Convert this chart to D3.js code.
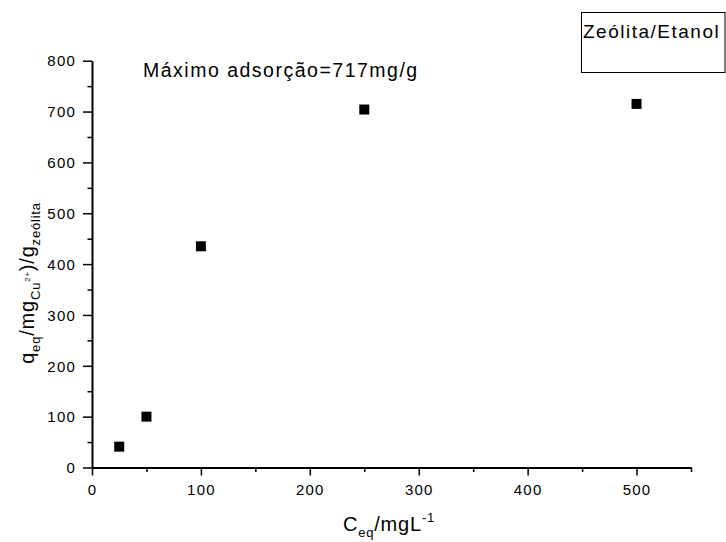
<!DOCTYPE html>
<html><head><meta charset="utf-8">
<script src="https://cdn.jsdelivr.net/npm/d3@7"></script>
<style>body{margin:0;background:#fff}svg{font-family:Arial,"Liberation Sans",sans-serif}</style>
</head><body><svg id="c" width="726" height="542"></svg>
<script>
const xValues = [25, 50, 100, 250, 500];
const yValues = [41, 100, 435, 704, 715];
const xTicks = [0, 100, 200, 300, 400, 500];
const yTicks = [0, 100, 200, 300, 400, 500, 600, 700, 800];
const seriesName = "Zeólita/Etanol";
const note = "Máximo adsorção=717mg/g";

const svg = d3.select("#c");
const x = d3.scaleLinear().domain([0, 550]).range([92, 691]);
const y = d3.scaleLinear().domain([0, 800]).range([467.5, 60.7]);

const xa = svg.append("g").attr("transform", "translate(0,467.5)")
  .call(d3.axisBottom(x).tickValues(d3.range(0, 551, 50)).tickSize(0).tickFormat(d => xTicks.includes(d) ? d : ""));
const ya = svg.append("g").attr("transform", "translate(92,0)")
  .call(d3.axisLeft(y).tickValues(d3.range(0, 801, 50)).tickSize(0).tickFormat(d => yTicks.includes(d) ? d : ""));
xa.selectAll(".tick line").attr("y2", d => xTicks.includes(d) ? 8 : 4.5);
ya.selectAll(".tick line").attr("x2", d => yTicks.includes(d) ? -9 : -4.5);
[xa, ya].forEach(a => {
  a.select(".domain").attr("stroke", "#000").attr("stroke-width", 2);
  a.selectAll(".tick line").attr("stroke", "#000").attr("stroke-width", 1.5);
  a.selectAll("text").attr("font-size", 15).attr("fill", "#000").attr("letter-spacing", 1.2)
    .attr("font-family", "Arial, 'Liberation Sans', sans-serif");
});
xa.selectAll("text").attr("y", 27.5).attr("dy", 0);
ya.selectAll("text").attr("x", -16).attr("dy", "0.35em");

svg.append("g").selectAll("rect").data(xValues).join("rect")
  .attr("x", (d) => x(d) - 5).attr("y", (d, i) => y(yValues[i]) - 5)
  .attr("width", 10).attr("height", 10).attr("fill", "#000");

svg.append("text").attr("x", 143).attr("y", 77).attr("font-size", 19.5).attr("letter-spacing", 1.5).text(note);

svg.append("rect").attr("x", 581.5).attr("y", 12.5).attr("width", 143.5).attr("height", 60)
  .attr("fill", "none").attr("stroke", "#000").attr("stroke-width", 1);
svg.append("text").attr("x", 583).attr("y", 38).attr("font-size", 19).attr("letter-spacing", 1.5).text(seriesName);

// x label
const xl = svg.append("text").attr("x", 389).attr("y", 531).attr("text-anchor", "middle").attr("font-size", 20).attr("letter-spacing", 0.8);
xl.append("tspan").text("C");
xl.append("tspan").attr("font-size", 13).attr("dy", 6).text("eq");
xl.append("tspan").attr("dy", -6).text("/mgL");
xl.append("tspan").attr("font-size", 13).attr("dy", -9).text("-1");

// y label
const yl = svg.append("text").attr("transform", "translate(34,283) rotate(-90)").attr("text-anchor", "middle").attr("font-size", 20).attr("letter-spacing", 0.8);
yl.append("tspan").text("q");
yl.append("tspan").attr("font-size", 13).attr("dy", 6).text("eq");
yl.append("tspan").attr("dy", -6).text("/mg");
yl.append("tspan").attr("font-size", 13).attr("dy", 6).text("Cu");
yl.append("tspan").attr("font-size", 8).attr("dy", -10).text("2+");
yl.append("tspan").attr("dy", 4).text(")/g");
yl.append("tspan").attr("font-size", 13).attr("dy", 6).text("zeólita");
</script></body></html>
